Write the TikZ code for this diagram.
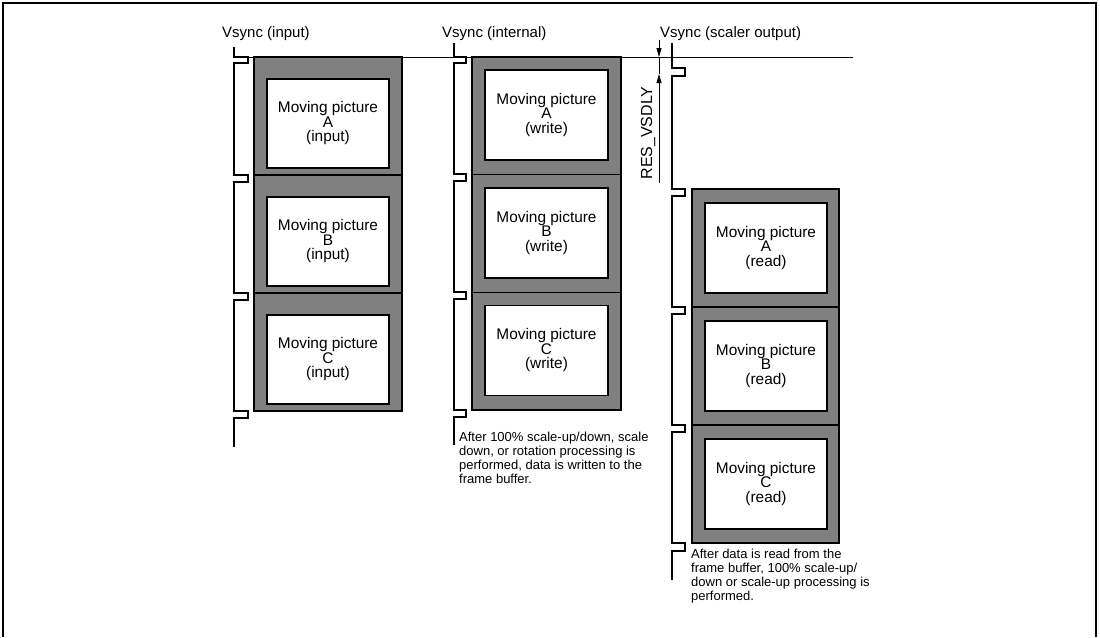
\documentclass[tikz,border=0pt]{standalone}
\usepackage{fontspec}
\setmainfont{Liberation Sans}
\usetikzlibrary{arrows.meta,positioning}
\definecolor{framegray}{HTML}{808080}
\tikzset{
  framenode/.style={rectangle, draw=black, fill=framegray, line width=1.6pt, inner sep=0pt},
  picnode/.style={rectangle, draw=black, fill=white, line width=1.6pt, inner sep=0pt,
    minimum width=122pt, minimum height=89pt, align=center,
    font=\fontsize{15.4}{14.5}\selectfont},
  vsynclabel/.style={anchor=base west, inner sep=0pt, font=\fontsize{15}{18}\selectfont},
  notetext/.style={anchor=north west, inner sep=0pt, align=left,
    font=\fontsize{13}{14}\selectfont},
  signalline/.style={draw=black, line width=1.6pt},
  refline/.style={draw=black, line width=0.8pt},
  dimedge/.style={-{Triangle[length=9pt,width=5pt]}, draw=black, line width=0.8pt},
}

\begin{document}
\begin{tikzpicture}[x=1pt, y=-1pt]
  \useasboundingbox (0,0) rectangle (1100,637);
  \draw[line width=2.4pt] (3,637) -- (3,3) -- (1096,3) -- (1096,637);

  % Vsync labels
  \node[vsynclabel] (lin) at (222,37) {Vsync (input)};
  \node[vsynclabel] (lint) at (442,37) {Vsync (internal)};
  \node[vsynclabel] (lout) at (660,37) {Vsync (scaler output)};

  % reference line
  \draw[refline] (248,57) -- (853,57);

  % input frames
  \foreach \k/\y in {A/0,B/118,C/236} {
    \node[framenode, minimum width=148pt, minimum height=118pt] (fin\k) at (328,116+\y) {};
    \node[picnode] (in\k) at (328,123.5+\y) {Moving picture\\\k\\(input)};
  }
  % write frames
  \foreach \k/\y in {A/0,B/117.7,C/235.4} {
    \node[framenode, minimum width=149pt, minimum height=117.7pt] (fwr\k) at (546.5,115.8+\y) {};
    \node[picnode, minimum width=123pt, minimum height=90pt] (wr\k) at (546.5,115+\y) {Moving picture\\\k\\(write)};
  }
  % read frames
  \foreach \k/\y in {A/0,B/118,C/236} {
    \node[framenode, minimum width=147pt, minimum height=118pt] (frd\k) at (765.5,248+\y) {};
    \node[picnode, minimum height=90pt] (rd\k) at (766,248+\y) {Moving picture\\\k\\(read)};
  }

  % sync signals
  \draw[signalline] (234,47) -- (234,57) -- (248,57) -- (248,63) -- (234,63)
    -- (234,175) -- (248,175) -- (248,182) -- (234,182)
    -- (234,293) -- (248,293) -- (248,300) -- (234,300)
    -- (234,411) -- (248,411) -- (248,418) -- (234,418) -- (234,447);
  \draw[signalline] (454,43) -- (454,57) -- (466,57) -- (466,63) -- (454,63)
    -- (454,174) -- (466,174) -- (466,181) -- (454,181)
    -- (454,292) -- (466,292) -- (466,299) -- (454,299)
    -- (454,410) -- (466,410) -- (466,417) -- (454,417) -- (454,445);
  \draw[signalline] (672,43) -- (672,68) -- (685,68) -- (685,76) -- (672,76)
    -- (672,189) -- (685,189) -- (685,196) -- (672,196)
    -- (672,307) -- (685,307) -- (685,314) -- (672,314)
    -- (672,425) -- (685,425) -- (685,432) -- (672,432)
    -- (672,543) -- (685,543) -- (685,551) -- (672,551) -- (672,580);

  % delay
  \coordinate (dimtop) at (659,40);
  \coordinate (dimmid) at (659,57);
  \coordinate (dimup) at (659,74);
  \coordinate (dimbot) at (659,183);
  \draw[dimedge] (dimtop) -- (dimmid);
  \draw[dimedge] (dimbot) -- (dimup);
  \draw[refline] (dimmid) -- (dimup);
  \node[rotate=90, inner sep=0pt, font=\fontsize{16}{18}\selectfont] (dly) at (648,133) {RES\_VSDLY};

  % notes
  \node[notetext] (nwr) at (459,432) {After 100\% scale-up/down, scale\\down, or rotation processing is\\performed, data is written to the\\frame buffer.};
  \node[notetext] (nrd) at (691,549) {After data is read from the\\frame buffer, 100\% scale-up/\\down or scale-up processing is\\performed.};
\end{tikzpicture}
\end{document}
